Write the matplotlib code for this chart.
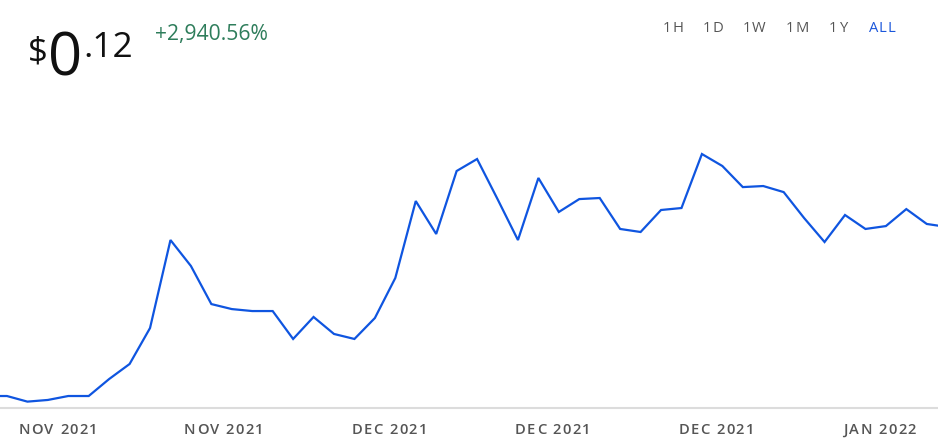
import matplotlib
matplotlib.use("Agg")
import matplotlib.pyplot as plt
from matplotlib.font_manager import FontProperties
from matplotlib.textpath import TextToPath

# ---- data ----
prices = [0.0079, 0.0079, 0.0042, 0.0053, 0.0079, 0.0079, 0.0191, 0.0290, 0.0527,
          0.1107, 0.0936, 0.0685, 0.0652, 0.0639, 0.0639, 0.0455, 0.0600, 0.0488,
          0.0455, 0.0593, 0.0857, 0.1364, 0.1147, 0.1562, 0.1641, 0.1377, 0.1107,
          0.1516, 0.1292, 0.1377, 0.1384, 0.1180, 0.1160, 0.1305, 0.1318, 0.1674,
          0.1595, 0.1456, 0.1463, 0.1423, 0.1252, 0.1094, 0.1272, 0.1180, 0.1199,
          0.1311, 0.1213, 0.1193]
tick_labels = ["NOV 2021", "NOV 2021", "DEC 2021", "DEC 2021", "DEC 2021", "JAN 2022"]
tick_positions = [3.5, 11.6, 19.7, 27.7, 35.7, 43.7]
price_label = ("$", "0", ".12")
change_label = "+2,940.56%"
ranges = ["1H", "1D", "1W", "1M", "1Y", "ALL"]
active_range = "ALL"

W, H = 938, 443
DPI = 100
plt.rcParams['font.family'] = ['Open Sans', 'DejaVu Sans']
fig = plt.figure(figsize=(W / DPI, H / DPI), dpi=DPI)

top_px, bot_px = 100, 408
ax = fig.add_axes([0, (H - bot_px) / H, 1, (bot_px - top_px) / H])
x = list(range(len(prices)))
ax.plot(x, prices, color="#0f55e0", lw=1.6, solid_joinstyle="miter")
ax.set_xlim(0.66, 46.55)
ax.set_ylim(0, 0.2030)
for s in ["top", "left", "right"]:
    ax.spines[s].set_visible(False)
ax.spines["bottom"].set_color("#dcdcdc")
ax.spines["bottom"].set_linewidth(1.5)
ax.set_yticks([])
ax.set_xticks(tick_positions)
ax.set_xticklabels([])
ax.tick_params(axis="x", length=0)

ttp = TextToPath()

def px(xp, yp):
    return xp / W, 1 - yp / H

def char_w(ch, size, weight):
    fp = FontProperties(family="Open Sans", size=size, weight=weight)
    w, h, d = ttp.get_text_width_height_descent(ch, fp, ismath=False)
    return w * DPI / 72.0

def spaced(cx, ybase, s, size, color, spacing, weight="normal"):
    widths = [char_w(c, size, weight) for c in s]
    total = sum(widths) + spacing * (len(s) - 1)
    xx = cx - total / 2
    for c, w in zip(s, widths):
        fig.text(*px(xx, ybase), c, fontsize=size, color=color, ha="left",
                 va="baseline", fontweight=weight)
        xx += w + spacing

# tick labels, centred under tick positions
for pos, lab in zip(tick_positions, tick_labels):
    xd = ax.transData.transform((pos, 0))[0]
    spaced(xd, 434, lab, 10.6, "#555555", 1.4, weight="semibold")

# price headline
fig.text(*px(28, 62), price_label[0], fontsize=25, color="#111111", va="baseline", ha="left")
fig.text(*px(48, 75), price_label[1], fontsize=43, color="#111111", va="baseline", ha="left")
fig.text(*px(83, 57), price_label[2], fontsize=25.5, color="#111111", va="baseline", ha="left")
fig.text(*px(155, 40), change_label, fontsize=15.2, color="#2e7d5b", va="baseline", ha="left")

centers = [673, 713, 754, 797, 838, 882]
for lab, cx in zip(ranges, centers):
    spaced(cx, 32, lab, 10.6, "#1a56db" if lab == active_range else "#555555", 1.0)

fig.savefig("out.png", dpi=DPI)
